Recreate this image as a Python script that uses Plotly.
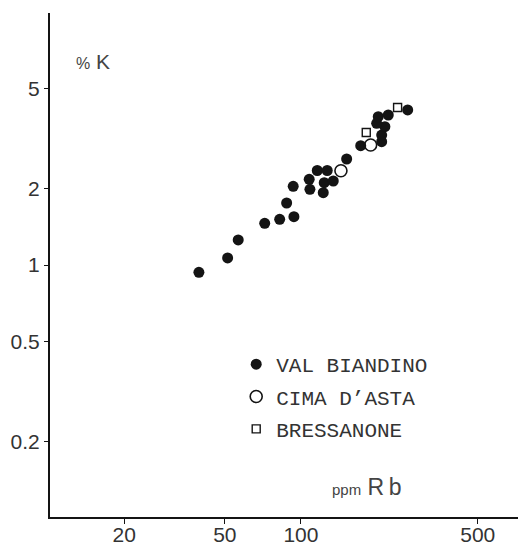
import plotly.graph_objects as go

# Val Biandino (filled dots): ppm Rb, % K
vb_rb = [39.5, 51.3, 56.5, 71.9, 82.4, 93.8, 87.8, 93.2, 107.8, 108.5, 116, 127, 123.6,
         122.5, 134.2, 151.6, 172.3, 208.5, 208.5, 214.7, 199.2, 202.1, 221.4, 264.2]
vb_k = [0.936, 1.066, 1.256, 1.462, 1.516, 1.552, 1.758, 2.047, 2.181, 1.992, 2.363, 2.363, 2.115,
        1.931, 2.148, 2.624, 2.962, 3.072, 3.263, 3.521, 3.631, 3.856, 3.916, 4.10]
# Cima d'Asta (open circles)
ca_rb = [143.9, 188.6]
ca_k = [2.359, 2.98]
# Bressanone (open squares)
br_rb = [181.2, 241]
br_k = [3.341, 4.19]

x_ticks = [20, 50, 100, 500]
x_ticktext = ["20", "50", "100", "500"]
y_ticks = [0.2, 0.5, 1, 2, 5]
y_ticktext = ["0.2", "0.5", "1", "2", "5"]

ink = "#141414"
txt = "#333333"

fig = go.Figure()
fig.add_trace(go.Scatter(x=vb_rb, y=vb_k, mode="markers", name="VAL BIANDINO", legendgroup="a",
                         marker=dict(symbol="circle", size=11, color=ink, line=dict(width=0))))
fig.add_trace(go.Scatter(x=ca_rb, y=ca_k, mode="markers", name="CIMA D\u2019ASTA", legendgroup="b",
                         marker=dict(symbol="circle-open", size=12, color=ink, line=dict(width=1.6))))
fig.add_trace(go.Scatter(x=br_rb, y=br_k, mode="markers", name="BRESSANONE", legendgroup="c",
                         marker=dict(symbol="square-open", size=8, color=ink, line=dict(width=1.4))))

fig.update_layout(
    width=518, height=551,
    margin=dict(l=50, r=0, t=13, b=34),
    paper_bgcolor="white", plot_bgcolor="white",
    showlegend=True,
    legend=dict(x=0.40 - 1 / 468, y=0.355 - 6 / 504, xanchor="left", yanchor="top",
                font=dict(family="Liberation Mono", size=21, color=txt),
                bgcolor="rgba(0,0,0,0)", tracegroupgap=2, itemwidth=30),
    xaxis=dict(type="log", range=[1.008, 2.858], showgrid=False, zeroline=False,
               showline=True, linecolor=ink, linewidth=2,
               ticks="outside", ticklen=5, tickwidth=1, tickcolor=ink,
               tickvals=x_ticks, ticktext=x_ticktext, ticklabelstandoff=-7,
               tickfont=dict(family="Liberation Sans", size=21, color=txt)),
    yaxis=dict(type="log", range=[-0.996, 0.996], showgrid=False, zeroline=False,
               showline=True, linecolor=ink, linewidth=2,
               ticks="outside", ticklen=4, tickwidth=1, tickcolor=ink,
               tickvals=y_ticks, ticktext=y_ticktext,
               tickfont=dict(family="Liberation Sans", size=21, color=txt)),
    annotations=[
        dict(xref="paper", yref="paper", x=(74 - 50) / 468, y=(551 - 34 - 61) / 504,
             xanchor="left", yanchor="middle", showarrow=False,
             text="<span style='font-size:16px'>%</span> K",
             font=dict(family="Liberation Sans", size=21, color="#444444")),
        dict(xref="paper", yref="paper", x=(330 - 50) / 468, y=(551 - 34 - 487) / 504,
             xanchor="left", yanchor="middle", showarrow=False,
             text="<span style='font-size:15px'>ppm</span> R\u2009b",
             font=dict(family="Liberation Sans", size=23, color="#444444")),
    ],
)

fig.write_html("out.html")
